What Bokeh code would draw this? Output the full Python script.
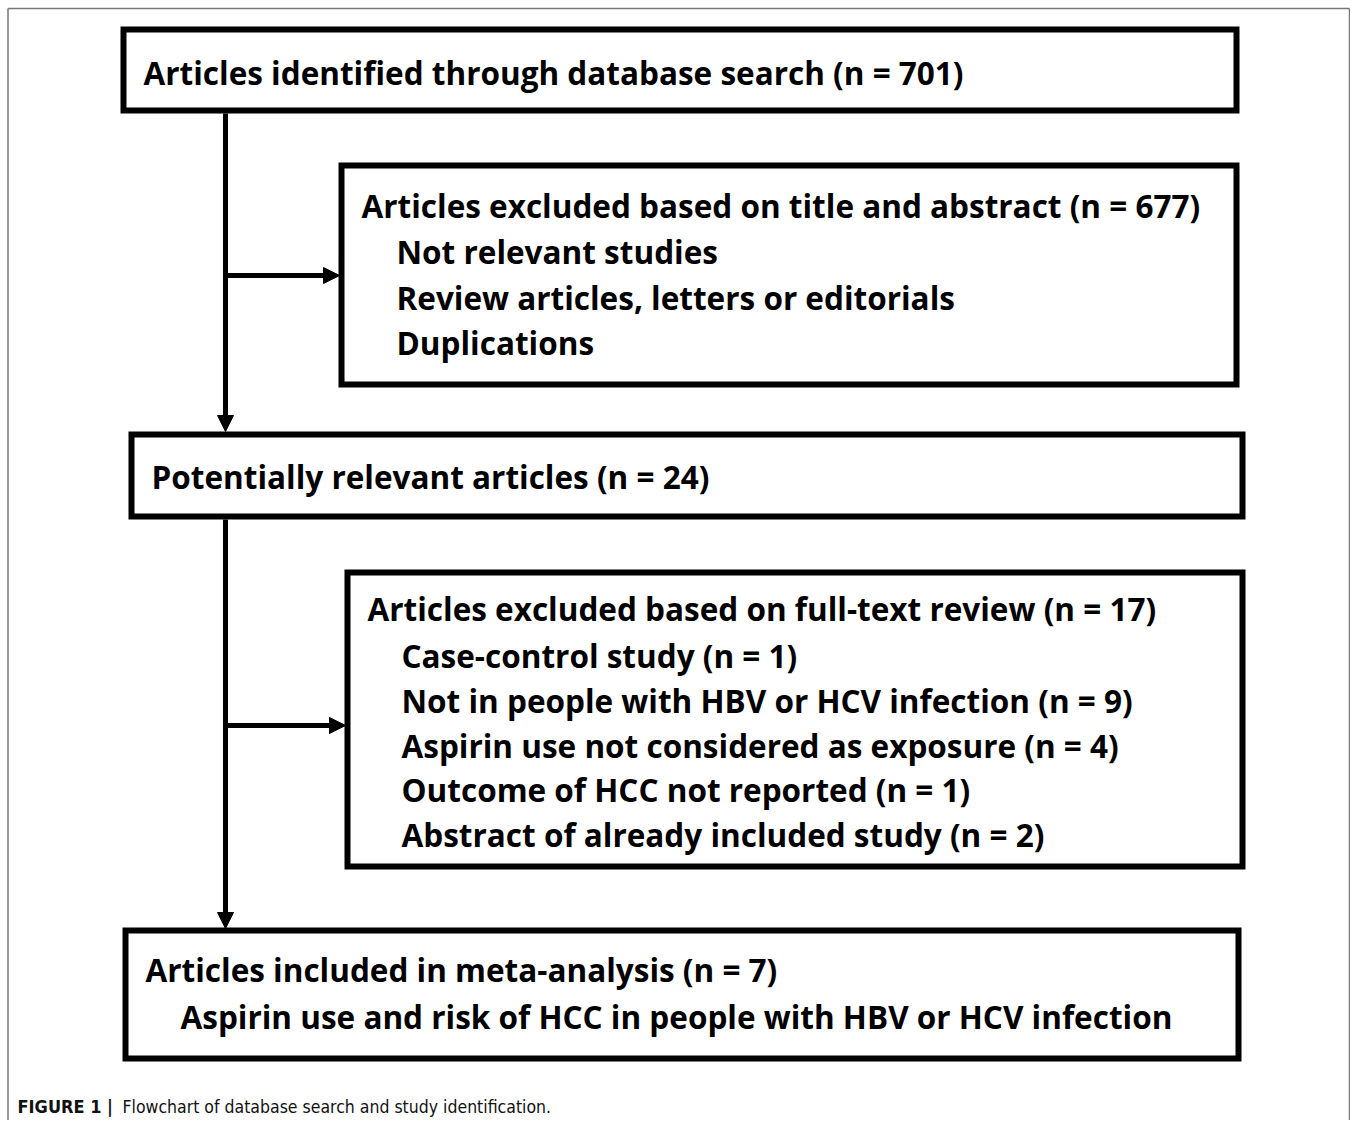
from bokeh.plotting import figure
from bokeh.models import Range1d, Arrow, NormalHead
from bokeh.core.properties import value
from bokeh.embed import file_html
from bokeh.resources import INLINE

# Box contents (title, then indented items)
box_titles = [
    "Articles identified through database search (n = 701)",
    "Articles excluded based on title and abstract (n = 677)",
    "Potentially relevant articles (n = 24)",
    "Articles excluded based on full-text review (n = 17)",
    "Articles included in meta-analysis (n = 7)",
]
box_items = [
    [],
    ["Not relevant studies", "Review articles, letters or editorials", "Duplications"],
    [],
    ["Case-control study (n = 1)",
     "Not in people with HBV or HCV infection (n = 9)",
     "Aspirin use not considered as exposure (n = 4)",
     "Outcome of HCC not reported (n = 1)",
     "Abstract of already included study (n = 2)"],
    ["Aspirin use and risk of HCC in people with HBV or HCV infection"],
]
caption_bold = "FIGURE 1 |"
caption_text = "Flowchart of database search and study identification."

# layout (pixel coordinates of the figure)
box_left = [123, 341, 131, 347, 125]
box_right = [1236, 1236, 1242, 1242, 1238]
box_top = [29, 165, 434, 572, 930]
box_bottom = [110, 384, 516, 866, 1058]
title_x = [143, 361, 151, 367, 145]
title_y = [72, 205, 476, 608, 969]
item_x = [0, 396, 0, 401, 180]
item_y0 = [0, 251, 0, 655, 1016]
item_step = [0, 45.5, 0, 44.8, 0]

W, H = 1350, 1120
p = figure(width=W, height=H, x_range=Range1d(0, W), y_range=Range1d(H, 0),
           output_backend="svg", toolbar_location=None, min_border=0)
p.axis.visible = False
p.grid.visible = False
p.outline_line_color = None
p.background_fill_color = "white"

# outer frame (open at the bottom)
p.segment(x0=[7.5, 7.5, 1349], y0=[1128, 8, 8], x1=[7.5, 1349, 1349], y1=[8, 8, 1128],
          line_color="#777777", line_width=1.5)

# boxes
for i in range(5):
    p.quad(left=box_left[i], right=box_right[i], top=box_top[i], bottom=box_bottom[i],
           fill_color="white", line_color="black", line_width=6, line_join="miter")

FONT = value("Open Sans")
FS = "31.5px"

p.text(x=title_x, y=title_y, text=box_titles, text_font=FONT, text_font_size=FS,
       text_font_style="bold", text_baseline="middle", text_align="left", text_color="black")

ix, iy, it = [], [], []
for i in range(5):
    for k, s in enumerate(box_items[i]):
        ix.append(item_x[i]); iy.append(item_y0[i] + k * item_step[i]); it.append(s)
p.text(x=ix, y=iy, text=it, text_font=FONT, text_font_size=FS,
       text_font_style="bold", text_baseline="middle", text_align="left", text_color="black")

# connectors
for (x0, y0, x1, y1) in [(225, 113, 225, 431), (225, 519, 225, 928),
                         (225, 275, 339, 275), (225, 725, 345, 725)]:
    p.add_layout(Arrow(end=NormalHead(size=16, fill_color="black", line_color="black"),
                       x_start=x0, y_start=y0, x_end=x1, y_end=y1,
                       line_color="black", line_width=5))

# caption
p.text(x=[17], y=[1106], text=[caption_bold], text_font=value("DejaVu Sans Condensed"),
       text_font_size="18px", text_font_style="bold", text_baseline="middle", text_color="#111111")
p.text(x=[122], y=[1106], text=[caption_text], text_font=value("DejaVu Sans Condensed"),
       text_font_size="17.5px", text_baseline="middle", text_color="#111111")

open("out.html", "w").write(file_html(p, INLINE))
